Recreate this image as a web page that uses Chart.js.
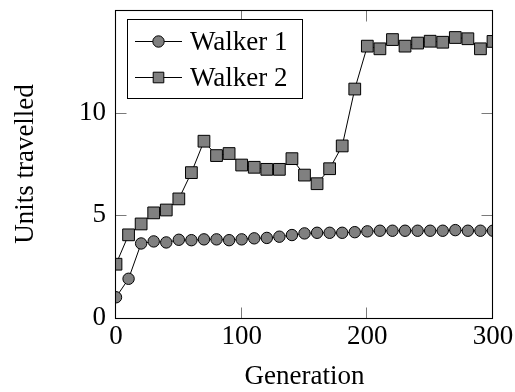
<!DOCTYPE html>
<html>
<head>
<meta charset="utf-8">
<script src="https://cdn.jsdelivr.net/npm/chart.js@4/dist/chart.umd.min.js"></script>
<style>
  html, body { margin: 0; padding: 0; background: #fff; }
  #wrap { width: 515px; height: 392px; }
</style>
</head>
<body>
<div id="wrap"><canvas id="c" width="515" height="392"></canvas></div>
<script>
const generations = [0,10,20,30,40,50,60,70,80,90,100,110,120,130,140,150,160,170,180,190,200,210,220,230,240,250,260,270,280,290,300];
const walker1 = [1.01,1.91,3.63,3.73,3.68,3.81,3.79,3.83,3.83,3.79,3.83,3.88,3.90,3.96,4.04,4.12,4.15,4.15,4.15,4.18,4.22,4.25,4.25,4.25,4.25,4.25,4.25,4.28,4.25,4.25,4.25];
const walker2 = [2.62,4.05,4.58,5.12,5.26,5.80,7.08,8.61,7.91,8.01,7.45,7.34,7.24,7.24,7.76,6.96,6.54,7.27,8.38,11.15,13.24,13.11,13.56,13.24,13.39,13.48,13.43,13.66,13.60,13.11,13.47];
const seriesLabels = ['Walker 1', 'Walker 2'];
const xTicks = [0, 100, 200, 300];
const yTicks = [0, 5, 10];

const FONT = "'Liberation Serif', 'Times New Roman', serif";

const framePlugin = {
  id: 'frame',
  afterDatasetsDraw(chart) {
    const {ctx, chartArea: a, scales} = chart;
    ctx.save();
    const L = a.left - 0.5, R = a.right - 0.5, T = a.top + 0.5, B = a.bottom + 0.5;
    // inside tick marks
    ctx.strokeStyle = '#7a7a7a';
    ctx.lineWidth = 1;
    const tl = 11;
    xTicks.forEach(v => {
      const px = Math.round(scales.x.getPixelForValue(v)) - 0.5;
      ctx.beginPath();
      ctx.moveTo(px, B); ctx.lineTo(px, B - tl);
      ctx.moveTo(px, T); ctx.lineTo(px, T + tl);
      ctx.stroke();
    });
    yTicks.forEach(v => {
      const py = Math.round(scales.y.getPixelForValue(v)) + 0.5;
      ctx.beginPath();
      ctx.moveTo(L, py); ctx.lineTo(L + tl, py);
      ctx.moveTo(R, py); ctx.lineTo(R - tl, py);
      ctx.stroke();
    });
    // frame
    ctx.strokeStyle = '#000';
    ctx.lineWidth = 1.1;
    ctx.strokeRect(L, T, R - L, B - T);

    // legend
    const bx = 127.5, by = 19.5, bw = 175, bh = 79;
    ctx.fillStyle = '#fff';
    ctx.fillRect(bx, by, bw, bh);
    ctx.strokeStyle = '#000';
    ctx.lineWidth = 1;
    ctx.strokeRect(bx, by, bw, bh);
    const rows = [41.5, 77.5];
    const baselines = [50, 86];
    chart.data.datasets.forEach((ds, i) => {
      const y = rows[i];
      ctx.strokeStyle = ds.borderColor;
      ctx.lineWidth = ds.borderWidth;
      ctx.beginPath();
      ctx.moveTo(135, y); ctx.lineTo(182, y);
      ctx.stroke();
      ctx.fillStyle = ds.pointBackgroundColor;
      ctx.strokeStyle = ds.pointBorderColor;
      ctx.lineWidth = ds.pointBorderWidth;
      Chart.helpers.drawPoint(ctx, {
        pointStyle: ds.pointStyle,
        rotation: 0,
        radius: i === 0 ? ds.pointRadius : 7.5,
        borderWidth: ds.pointBorderWidth
      }, 158.5, y);
      ctx.fillStyle = '#000';
      ctx.font = '27px ' + FONT;
      ctx.textAlign = 'left';
      ctx.textBaseline = 'alphabetic';
      ctx.fillText(ds.label, 190, baselines[i]);
    });
    ctx.restore();
  }
};

const mk = arr => generations.map((g, i) => ({x: g, y: arr[i]}));

new Chart(document.getElementById('c'), {
  type: 'line',
  data: {
    datasets: [
      {
        label: seriesLabels[0],
        data: mk(walker1),
        borderColor: '#000',
        borderWidth: 1,
        pointStyle: 'circle',
        pointRadius: 5.7,
        pointBackgroundColor: '#808080',
        pointBorderColor: '#000',
        pointBorderWidth: 1,
        tension: 0
      },
      {
        label: seriesLabels[1],
        data: mk(walker2),
        borderColor: '#000',
        borderWidth: 1,
        pointStyle: 'rect',
        pointRadius: 8.3,
        pointBackgroundColor: '#808080',
        pointBorderColor: '#000',
        pointBorderWidth: 1,
        tension: 0
      }
    ]
  },
  options: {
    responsive: false,
    animation: false,
    events: [],
    layout: { padding: { top: 10, right: 22, left: 0, bottom: 0 } },
    plugins: { legend: { display: false }, tooltip: { enabled: false } },
    scales: {
      x: {
        type: 'linear',
        min: 0, max: 300,
        afterBuildTicks: s => { s.ticks = xTicks.map(v => ({value: v})); },
        afterFit: s => { s.height = 74; s.paddingLeft = 0; s.paddingRight = 0; },
        grid: { display: false, drawTicks: false },
        border: { display: false },
        ticks: { color: '#000', padding: 3, maxRotation: 0, font: { family: FONT, size: 27 } },
        title: { display: true, text: 'Generation', color: '#000', padding: { top: 0, bottom: -1.5 }, font: { family: FONT, size: 27 } }
      },
      y: {
        type: 'linear',
        min: 0, max: 15,
        afterBuildTicks: s => { s.ticks = yTicks.map(v => ({value: v})); },
        afterFit: s => { s.width = 116; s.paddingTop = 0; s.paddingBottom = 0; },
        grid: { display: false, drawTicks: false },
        border: { display: false },
        ticks: { color: '#000', padding: 10, font: { family: FONT, size: 27 } },
        title: { display: true, text: 'Units travelled', color: '#000', padding: { top: 10, bottom: 0 }, font: { family: FONT, size: 27 } }
      }
    }
  },
  plugins: [framePlugin]
});
</script>
</body>
</html>
